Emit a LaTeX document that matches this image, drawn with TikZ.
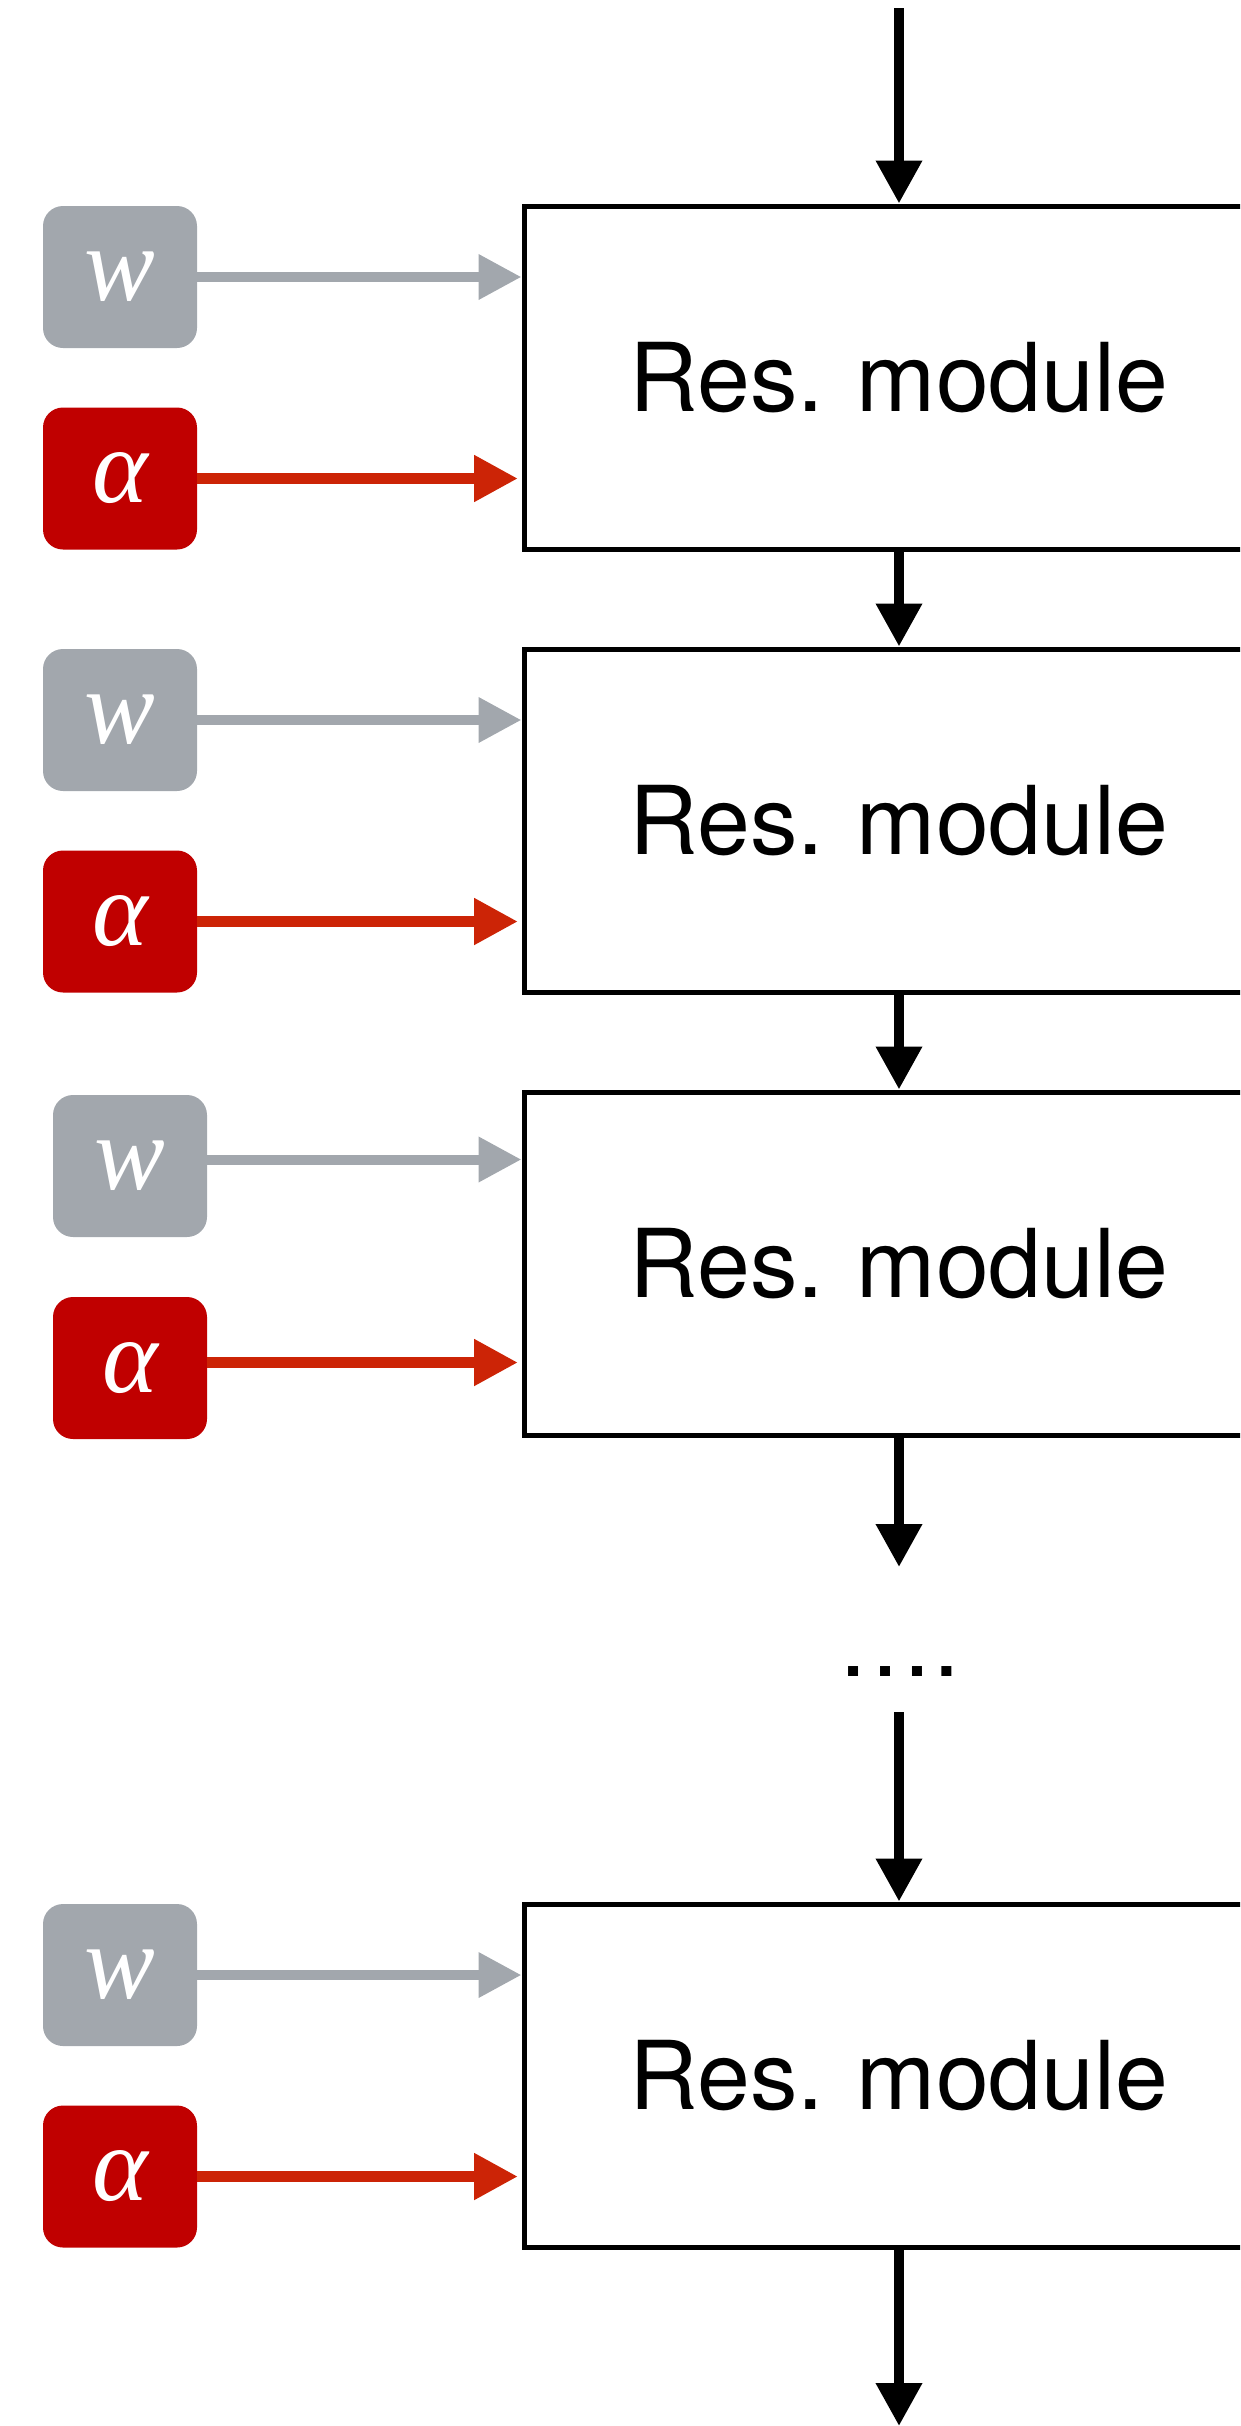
\documentclass[tikz,border=0pt]{standalone}
\usepackage{fontspec}
\setmainfont{TeX Gyre Heros}
\newfontfamily\varfont{Liberation Serif}
\usetikzlibrary{arrows.meta,calc}

\definecolor{wgray}{HTML}{A2A7AD}
\definecolor{abox}{HTML}{C00000}
\definecolor{aline}{HTML}{CC2406}

\tikzset{
  resbox/.style={draw=black, line width=5pt, minimum width=750pt,
    minimum height=343pt, inner sep=0pt,
    font=\fontsize{95}{110}\selectfont},
  param/.style={rounded corners=20pt, minimum width=154pt,
    minimum height=142pt, inner sep=0pt, outer sep=0pt, text=white,
    font=\fontsize{106}{110}\selectfont\varfont\itshape},
  wparam/.style={param, fill=wgray},
  aparam/.style={param, fill=abox},
  flow/.style={line width=10pt, -{Triangle[length=43pt,width=44pt]}},
  wflow/.style={line width=10pt, wgray, -{Triangle[length=43pt,width=43pt]}},
  aflow/.style={line width=11pt, aline, -{Triangle[length=44pt,width=44pt]},
    shorten >=3.5pt},
  dots/.style={font=\fontsize{96}{110}\selectfont, inner sep=0pt, anchor=base},
}

\begin{document}
\begin{tikzpicture}[x=1pt,y=-1pt]
\useasboundingbox (0,0) rectangle (1240,2426);
\clip (0,0) rectangle (1240,2426);

% residual modules
\node[resbox] (r1) at (899,377.5) {Res.\hspace{-2pt} module};
\node[resbox] (r2) at (899,820.5) {Res.\hspace{-2pt} module};
\node[resbox] (r3) at (899,1263.5) {Res.\hspace{-2pt} module};
\node[resbox] (r4) at (899,2075.5) {Res.\hspace{-2pt} module};

% per-module parameters
\node[wparam] (w1) at (120,277) {w};
\node[aparam] (a1) at (120,478.5) {α};
\node[wparam] (w2) at (120,720) {w};
\node[aparam] (a2) at (120,921.5) {α};
\node[wparam] (w3) at (130,1166) {w};
\node[aparam] (a3) at (130,1368) {α};
\node[wparam] (w4) at (120,1975) {w};
\node[aparam] (a4) at (120,2176.5) {α};

% gap in the stack
\node[dots] (gap) at (899,1676) {….};

\coordinate (in) at (899,8);
\coordinate (gapin) at (899,1567);
\coordinate (gapout) at (899,1712);
\coordinate (out) at (899,2426);

% main data flow
\draw[flow] (in) -- (r1.north);
\draw[flow] (r1.south) -- (r2.north);
\draw[flow] (r2.south) -- (r3.north);
\draw[flow] (r3.south) -- (gapin);
\draw[flow] (gapout) -- (r4.north);
\draw[flow] (r4.south) -- (out);

% parameter inputs
\draw[wflow] (w1.east) -- (w1.east -| r1.west);
\draw[aflow] (a1.east) -- (a1.east -| r1.west);
\draw[wflow] (w2.east) -- (w2.east -| r2.west);
\draw[aflow] (a2.east) -- (a2.east -| r2.west);
\coordinate (g3) at ($(r3.north west)+(0,70)$);
\coordinate (h3) at ($(r3.north west)+(0,273)$);
\draw[wflow] (w3.east |- g3) -- (g3);
\draw[aflow] (a3.east |- h3) -- (h3);
\draw[wflow] (w4.east) -- (w4.east -| r4.west);
\draw[aflow] (a4.east) -- (a4.east -| r4.west);
\end{tikzpicture}
\end{document}
